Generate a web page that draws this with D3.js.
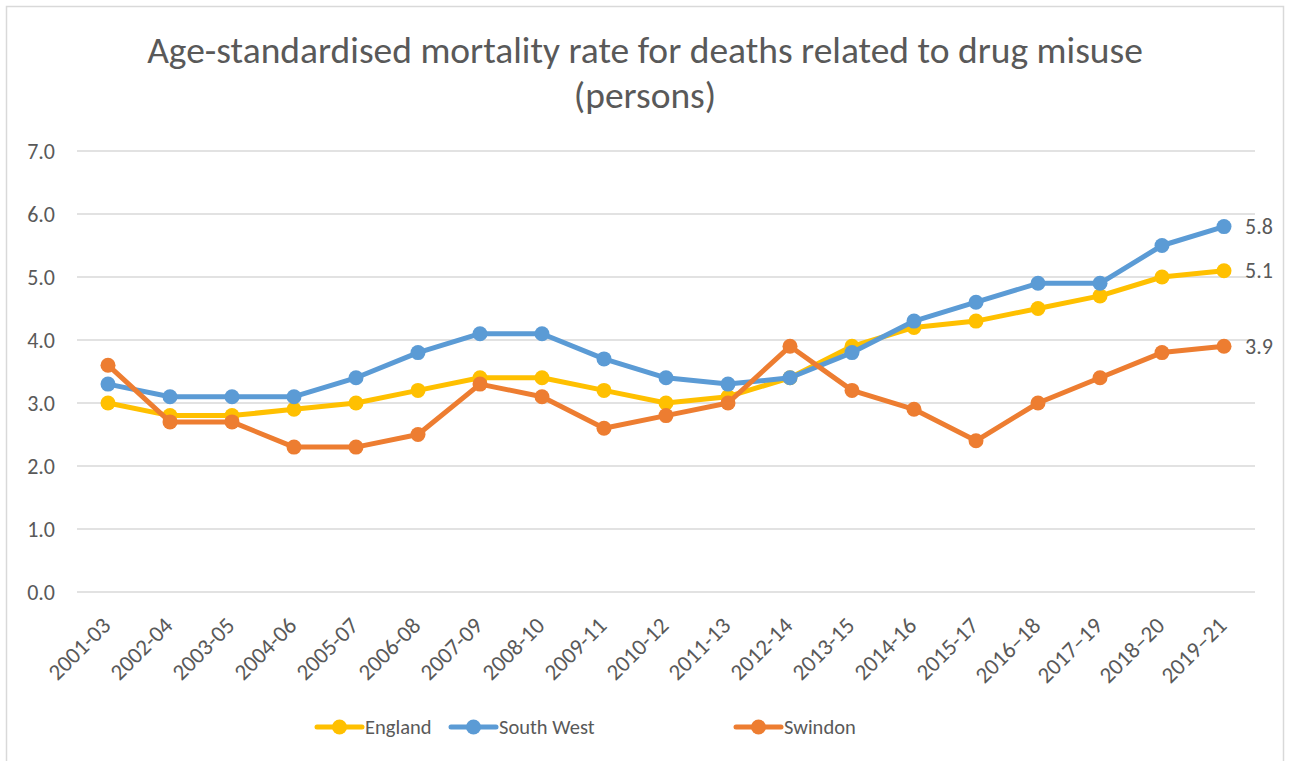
<!DOCTYPE html>
<html>
<head>
<meta charset="utf-8">
<script src="https://cdn.jsdelivr.net/npm/d3@7"></script>
<style>
  body { margin: 0; background: #fff; }
  text { font-family: "Carlito", "Liberation Sans", "Open Sans", sans-serif; fill: #595959; }
</style>
</head>
<body>
<div id="chart"></div>
<script>
// periods along the x axis (later ones use an en dash, as in the source)
const periods = ["2001-03", "2002-04", "2003-05", "2004-06", "2005-07", "2006-08", "2007-09",
  "2008-10", "2009-11", "2010-12", "2011-13", "2012-14", "2013-15", "2014-16", "2015-17",
  "2016\u201318", "2017\u201319", "2018\u201320", "2019\u201321"];

const england   = [3.0, 2.8, 2.8, 2.9, 3.0, 3.2, 3.4, 3.4, 3.2, 3.0, 3.1, 3.4, 3.9, 4.2, 4.3, 4.5, 4.7, 5.0, 5.1];
const southWest = [3.3, 3.1, 3.1, 3.1, 3.4, 3.8, 4.1, 4.1, 3.7, 3.4, 3.3, 3.4, 3.8, 4.3, 4.6, 4.9, 4.9, 5.5, 5.8];
const swindon   = [3.6, 2.7, 2.7, 2.3, 2.3, 2.5, 3.3, 3.1, 2.6, 2.8, 3.0, 3.9, 3.2, 2.9, 2.4, 3.0, 3.4, 3.8, 3.9];

const yTicks = [0, 1, 2, 3, 4, 5, 6, 7];

const seriesNames = ["England", "South West", "Swindon"];
const seriesValues = [england, southWest, swindon];
const seriesColors = ["#FFC000", "#5B9BD5", "#ED7D31"];

const width = 1290, height = 761;

const svg = d3.select("#chart").append("svg")
    .attr("width", width)
    .attr("height", height);

// chart border
svg.append("rect")
    .attr("x", 6.5).attr("y", 6.5)
    .attr("width", 1277).attr("height", 780)
    .attr("fill", "#fff")
    .attr("stroke", "#d9d9d9")
    .attr("stroke-width", 1.5);

const x = d3.scaleBand().domain(periods).range([77, 1255]);
const y = d3.scaleLinear().domain([0, 7]).range([592, 151]);
const cx = d => x(d) + x.bandwidth() / 2;

// title
svg.append("text")
    .attr("x", 645).attr("y", 63)
    .attr("text-anchor", "middle")
    .style("font-size", "37.5px")
    .text("Age-standardised mortality rate for deaths related to drug misuse");
svg.append("text")
    .attr("x", 645).attr("y", 108)
    .attr("text-anchor", "middle")
    .style("font-size", "37.5px")
    .text("(persons)");

// gridlines
svg.append("g")
    .selectAll("line")
    .data(yTicks)
    .join("line")
    .attr("x1", 77).attr("x2", 1255)
    .attr("y1", d => y(d)).attr("y2", d => y(d))
    .attr("stroke", "#d9d9d9")
    .attr("stroke-width", 1.3);

// y axis labels
const yAxis = svg.append("g")
    .attr("transform", "translate(55,0)")
    .call(d3.axisLeft(y).tickValues(yTicks).tickFormat(d3.format(".1f")).tickSize(0).tickPadding(0));
yAxis.select(".domain").remove();
yAxis.selectAll("text")
    .style("font-size", "22px")
    .style("font-family", null)
    .attr("fill", null);

// x axis labels, rotated
svg.append("g")
    .selectAll("text")
    .data(periods)
    .join("text")
    .attr("transform", d => `translate(${cx(d) + 4},${627}) rotate(-45)`)
    .attr("text-anchor", "end")
    .style("font-size", "23px")
    .text(d => d);

// lines and markers
const line = d3.line()
    .x((v, i) => cx(periods[i]))
    .y(v => y(v));

seriesValues.forEach((vals, k) => {
    const g = svg.append("g");
    g.append("path")
        .datum(vals)
        .attr("d", line)
        .attr("fill", "none")
        .attr("stroke", seriesColors[k])
        .attr("stroke-width", 5)
        .attr("stroke-linejoin", "round")
        .attr("stroke-linecap", "round");
    g.selectAll("circle")
        .data(vals)
        .join("circle")
        .attr("cx", (v, i) => cx(periods[i]))
        .attr("cy", v => y(v))
        .attr("r", 7.5)
        .attr("fill", seriesColors[k]);
});

// end value labels
seriesValues.forEach(vals => {
    const last = vals[vals.length - 1];
    svg.append("text")
        .attr("x", cx(periods[periods.length - 1]) + 21)
        .attr("y", y(last))
        .attr("dy", "0.35em")
        .style("font-size", "22px")
        .text(d3.format(".1f")(last));
});

// legend
const legendX = [317, 451, 736];
const legend = svg.append("g");
seriesNames.forEach((name, k) => {
    const g = legend.append("g").attr("transform", `translate(${legendX[k]},727)`);
    g.append("line")
        .attr("x1", 0).attr("x2", 45)
        .attr("stroke", seriesColors[k])
        .attr("stroke-width", 5)
        .attr("stroke-linecap", "round");
    g.append("circle")
        .attr("cx", 22.5).attr("r", 7.5)
        .attr("fill", seriesColors[k]);
    g.append("text")
        .attr("x", 48)
        .attr("dy", "0.35em")
        .style("font-size", "20.5px")
        .text(name);
});
</script>
</body>
</html>
